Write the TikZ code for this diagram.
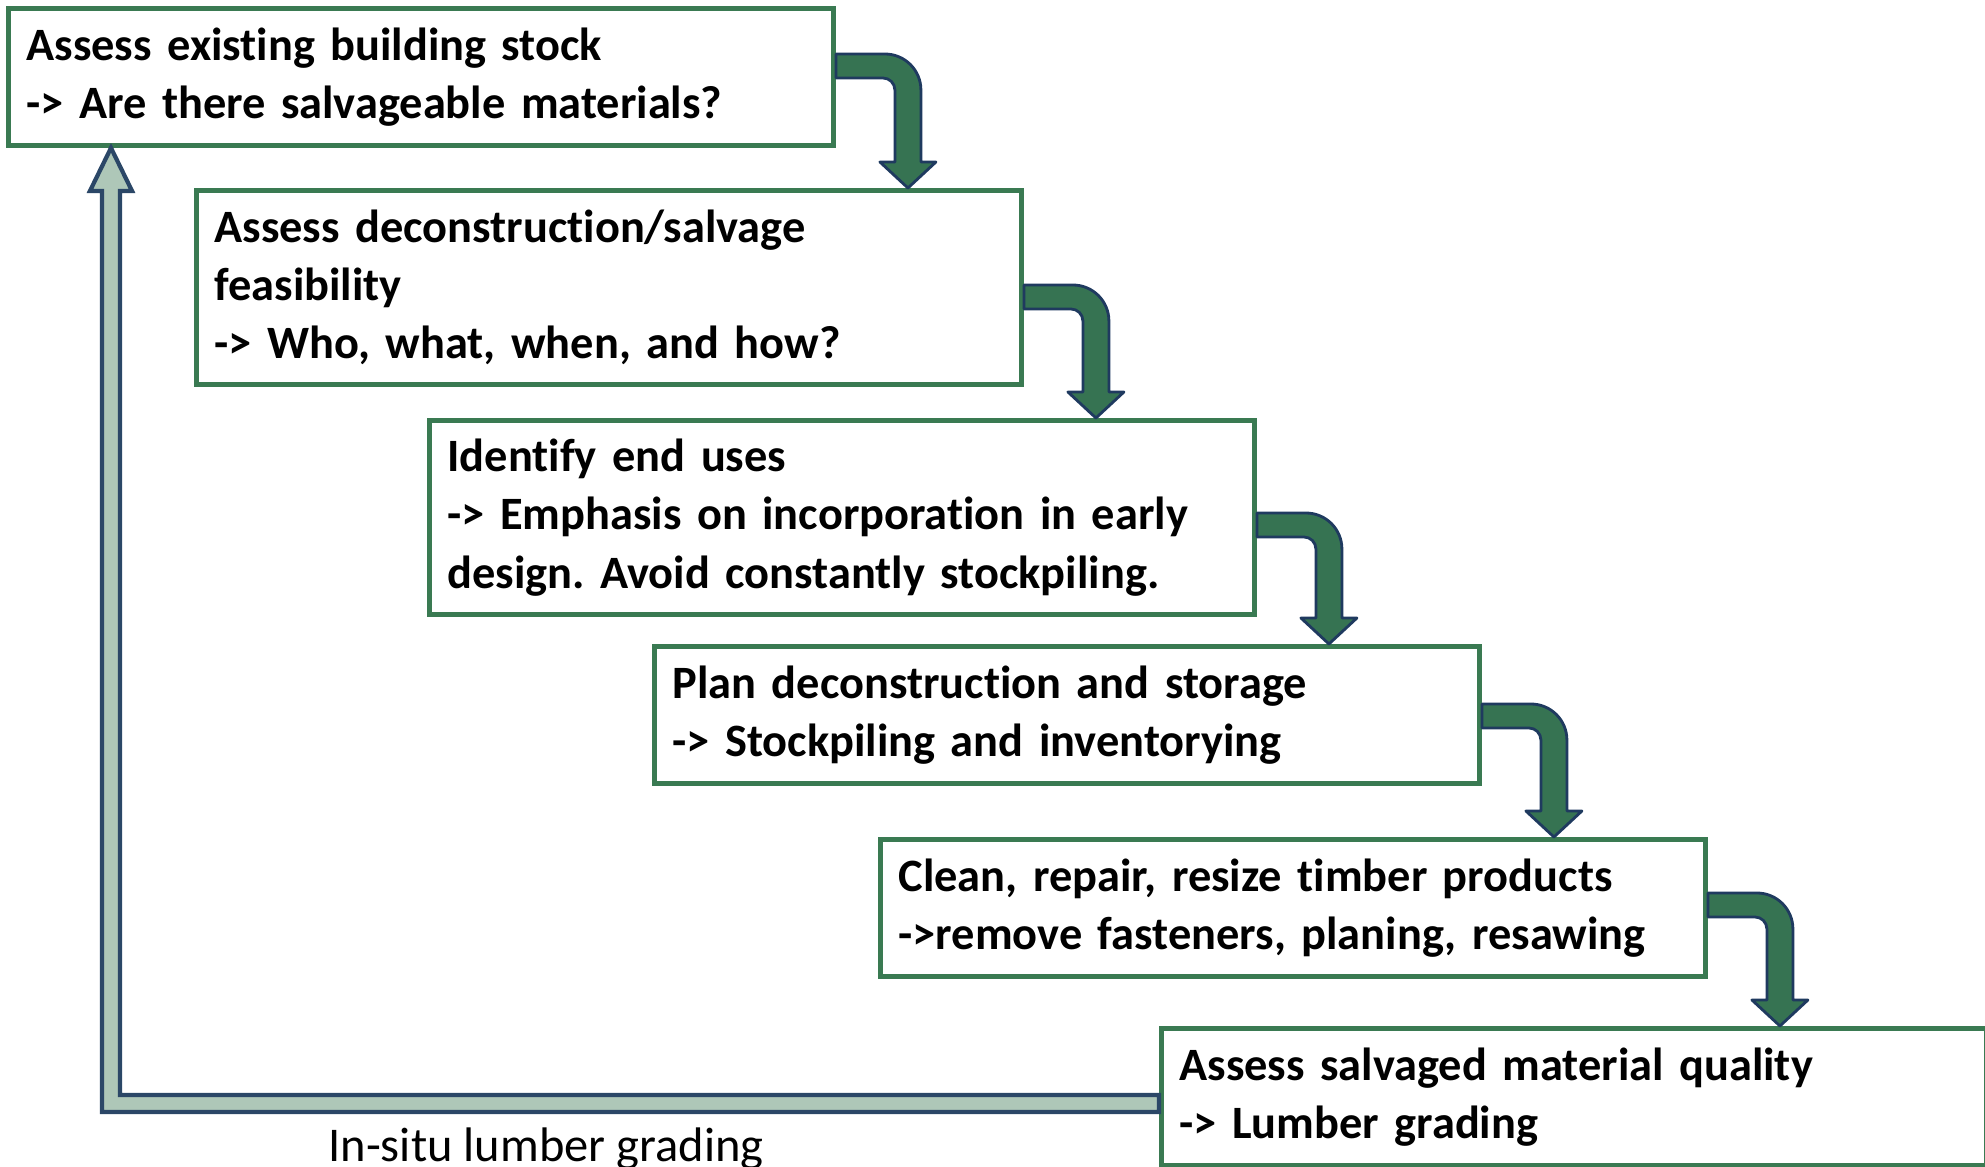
\documentclass[tikz,border=0pt]{standalone}
\usepackage{fontspec}
\setmainfont{Carlito}[Ligatures=NoCommon]
\usetikzlibrary{calc, positioning}
\definecolor{stepgreen}{HTML}{3A7A52}
\definecolor{arrowgreen}{HTML}{367352}
\definecolor{arrownavy}{HTML}{1F3A5F}
\definecolor{loopgreen}{HTML}{AEC7B8}
\definecolor{loopnavy}{HTML}{2B4767}
\tikzset{
  stepbox/.style={
    rectangle, draw=stepgreen, line width=1.4pt, fill=white,
    anchor=north west, minimum width=8.25cm, minimum height=#1,
    text width=7.89cm, inner xsep=0.18cm, align=left,
    font=\fontsize{13.2}{16.6}\selectfont\bfseries
  },
  stepbox/.default=1.37cm,
  bentarrow/.style={fill=arrowgreen, draw=arrownavy, line width=0.8pt,
    line join=round},
  looparrow/.style={fill=loopgreen, draw=loopnavy, line width=1.2pt}
}
% bent arrow from the right side of #1 down onto the top of #2,
% band centre #3 (cm) below the top of #1
\newcommand{\bendarrow}[3]{%
  \draw[bentarrow] let \p1=(#1.north east), \p2=(#2.north) in
    (\x1,\y1-#3cm+1.2mm) -- (\x1+0.49cm,\y1-#3cm+1.2mm)
    arc[start angle=90, end angle=0, radius=0.36cm]
    -- (\x1+0.85cm,\y2+2.6mm) -- (\x1+1cm,\y2+2.6mm)
    -- (\x1+0.72cm,\y2) -- (\x1+0.44cm,\y2+2.6mm)
    -- (\x1+0.59cm,\y2+2.6mm) -- (\x1+0.59cm,\y1-#3cm-2.4mm)
    arc[start angle=0, end angle=90, radius=0.12cm]
    -- (\x1,\y1-#3cm-1.2mm) -- cycle;}
\frenchspacing
\begin{document}
\begin{tikzpicture}
  \useasboundingbox (0,0) rectangle (19.85,-11.67);
  % Steps
  \node[stepbox] (assess) at (0.06,-0.06)
    {Assess existing building stock\\-> Are there salvageable materials?};
  \node[stepbox=1.94cm] (feasib) at (1.94,-1.88)
    {Assess deconstruction/salvage\\feasibility\\-> Who, what, when, and how?};
  \node[stepbox=1.94cm] (enduse) at (4.27,-4.18)
    {Identify end uses\\-> Emphasis on incorporation in early\\design. Avoid constantly stockpiling.};
  \node[stepbox] (plan) at (6.52,-6.44)
    {Plan deconstruction and storage\\-> Stockpiling and inventorying};
  \node[stepbox] (clean) at (8.78,-8.37)
    {Clean, repair, resize timber products\\->remove fasteners, planing, resawing};
  \node[stepbox] (quality) at (11.59,-10.26)
    {Assess salvaged material quality\\-> Lumber grading};
  % Bent arrows
  \bendarrow{assess}{feasib}{0.60}
  \bendarrow{feasib}{enduse}{1.09}
  \bendarrow{enduse}{plan}{1.07}
  \bendarrow{plan}{clean}{0.72}
  \bendarrow{clean}{quality}{0.68}
  % Feedback loop
  \draw[looparrow] let \p1=(quality.north west), \p2=(assess.south west) in
    (\x1,\y1-0.69cm) -- (\x2+1.14cm,\y1-0.69cm) -- (\x2+1.14cm,\y2-0.43cm)
    -- (\x2+1.26cm,\y2-0.43cm) -- (\x2+1.05cm,\y2) -- (\x2+0.84cm,\y2-0.43cm)
    -- (\x2+0.96cm,\y2-0.43cm) -- (\x2+0.96cm,\y1-0.86cm)
    -- (\x1,\y1-0.86cm) -- cycle;
  \node[font=\fontsize{13.8}{16}\selectfont, anchor=base] (grading)
    at (5.46,-11.62) {In-situ lumber grading};
\end{tikzpicture}
\end{document}
